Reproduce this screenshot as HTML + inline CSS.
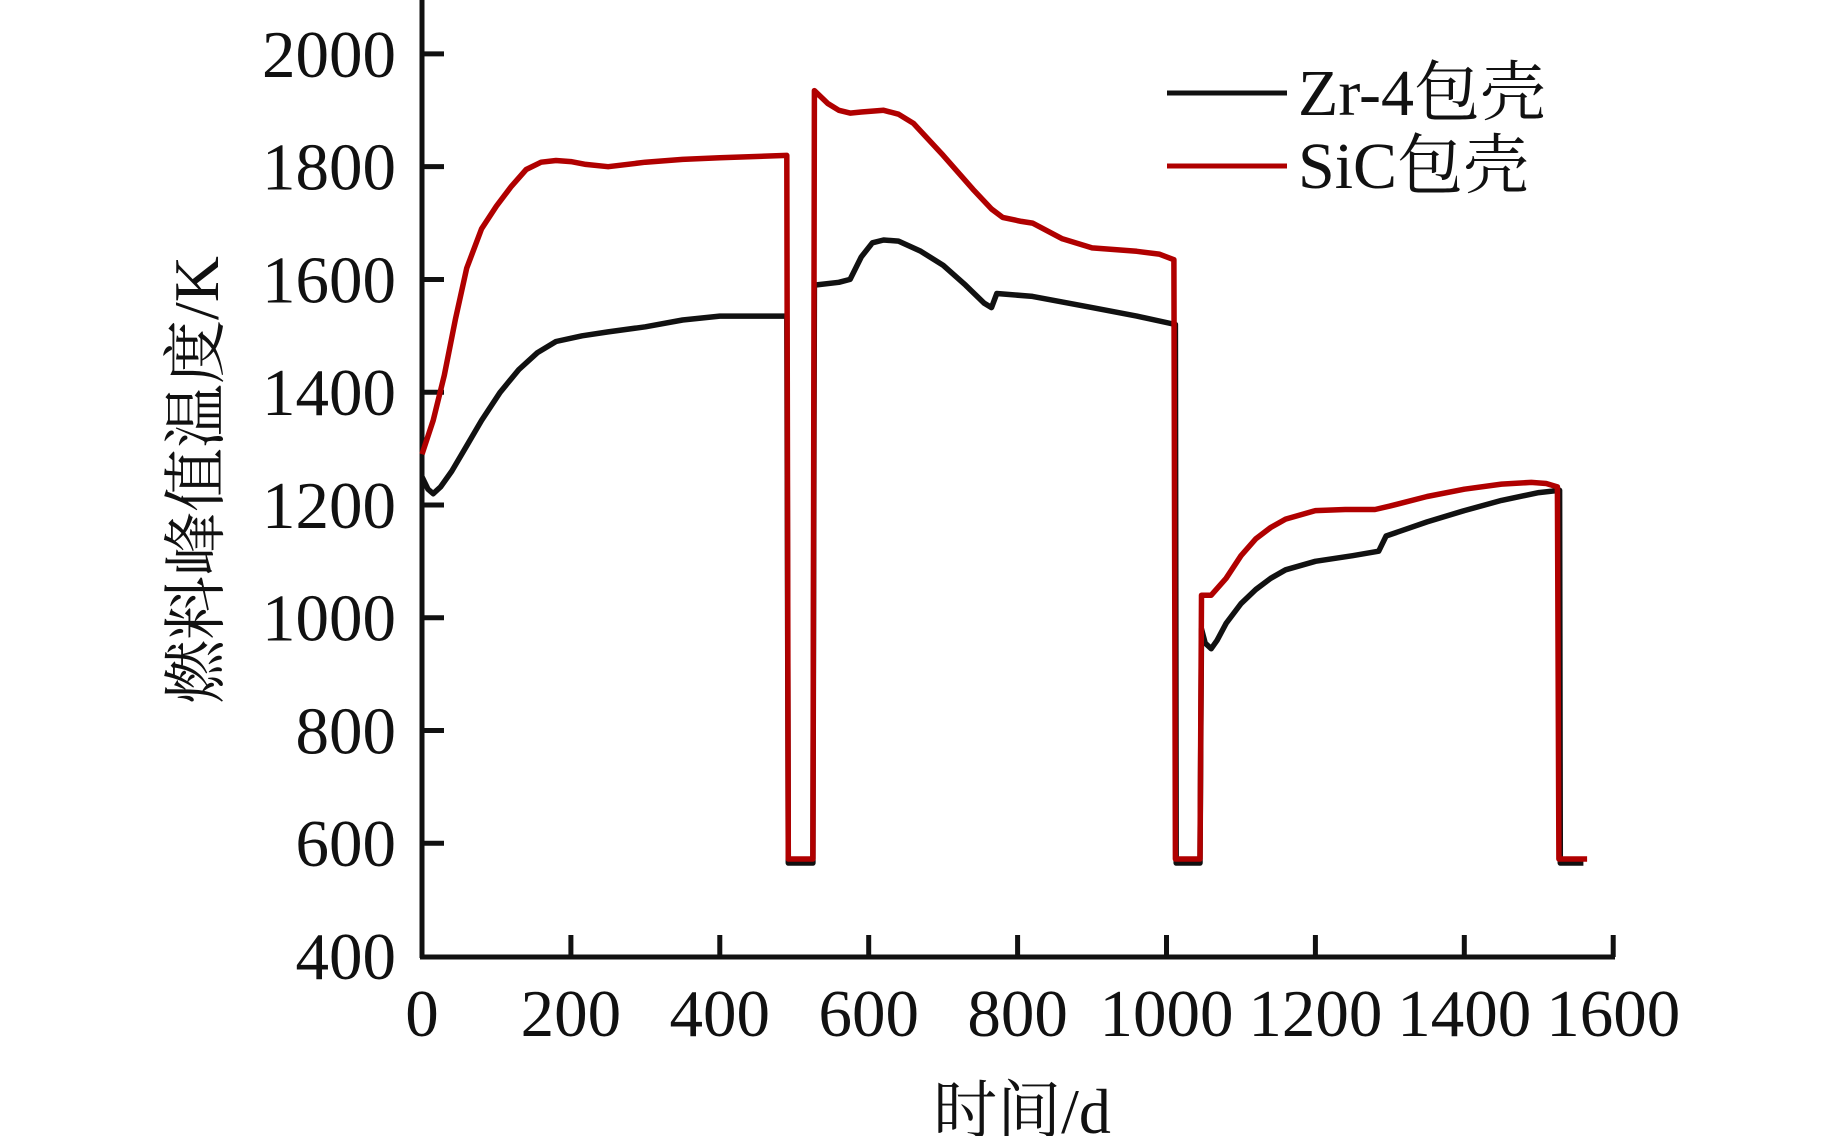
<!DOCTYPE html>
<html><head><meta charset="utf-8"><style>
html,body{margin:0;padding:0;background:#fff;}
svg{display:block;}
text{font-family:"Liberation Serif","Noto Serif CJK SC",serif;fill:#111;}
</style></head><body>
<svg id="s" width="1843" height="1136" viewBox="0 0 1843 1136" xmlns="http://www.w3.org/2000/svg">
<g stroke="#111" stroke-width="5" fill="none">
<line x1="422" y1="0" x2="422" y2="958"/>
<line x1="420" y1="957" x2="1615" y2="957"/>
</g>
<g id="ticks" stroke="#111" stroke-width="5"></g>
<g id="labels" font-size="67"></g>
<text x="1022" y="1133" font-size="64" text-anchor="middle">时间/d</text>
<text transform="translate(218,480) rotate(-90)" font-size="64" text-anchor="middle">燃料峰值温度/K</text>
<line x1="1167" y1="93" x2="1287" y2="93" stroke="#111" stroke-width="5"/>
<line x1="1167" y1="166" x2="1287" y2="166" stroke="#b00000" stroke-width="5"/>
<text x="1298" y="115" font-size="66">Zr-4包壳</text>
<text x="1298" y="188" font-size="66">SiC包壳</text>
<polyline id="zr" fill="none" stroke="#111" stroke-width="5.5" stroke-linejoin="round"/>
<polyline id="sic" fill="none" stroke="#b00000" stroke-width="5.5" stroke-linejoin="round"/>
</svg>
<script>
function X(d){return 422+0.7445*d;}
function Y(t){return 956-(t-400)*0.5638;}
var NS="http://www.w3.org/2000/svg";
var tk=document.getElementById('ticks'),lb=document.getElementById('labels');
function el(p,n,a,t){var e=document.createElementNS(NS,n);for(var k in a)e.setAttribute(k,a[k]);if(t!==undefined)e.textContent=t;p.appendChild(e);}
for(var d=200;d<=1600;d+=200){el(tk,'line',{x1:X(d),y1:957,x2:X(d),y2:935});}
for(var d=0;d<=1600;d+=200){el(lb,'text',{x:X(d),y:1036,'text-anchor':'middle'},d);}
for(var t=600;t<=2000;t+=200){el(tk,'line',{x1:422,y1:Y(t),x2:444,y2:Y(t)});}
for(var t=400;t<=2000;t+=200){el(lb,'text',{x:396,y:Y(t)+23,'text-anchor':'end'},t);}
var zr=[[0,1250],[8,1228],[15,1220],[25,1232],[40,1260],[60,1305],[80,1350],[105,1400],[130,1440],[155,1470],[180,1490],[215,1500],[250,1507],[300,1516],[350,1528],[400,1535],[490,1535],[492,565],[525,565],[527,1590],[560,1595],[575,1600],[590,1640],[605,1665],[620,1670],[640,1668],[670,1650],[700,1625],[730,1590],[755,1558],[765,1550],[772,1575],[820,1570],[900,1550],[960,1535],[1012,1520],[1013,565],[1045,565],[1047,980],[1052,955],[1060,945],[1068,960],[1080,990],[1100,1025],[1120,1050],[1140,1070],[1160,1085],[1200,1100],[1250,1110],[1285,1118],[1295,1145],[1350,1170],[1400,1190],[1450,1208],[1500,1222],[1528,1226],[1529,565],[1560,565]];
var sic=[[0,1290],[15,1350],[30,1430],[45,1530],[60,1620],[80,1690],[100,1730],[120,1765],[140,1795],[160,1808],[180,1811],[200,1809],[220,1804],[250,1800],[300,1808],[350,1813],[400,1816],[490,1820],[492,572],[525,572],[527,1935],[545,1912],[560,1900],[575,1895],[590,1897],[620,1900],[640,1893],[660,1877],[700,1820],[740,1760],[765,1725],[780,1710],[805,1703],[820,1700],[860,1672],[900,1656],[960,1650],[990,1645],[1010,1635],[1012,572],[1045,572],[1047,1040],[1060,1040],[1080,1070],[1100,1110],[1120,1140],[1140,1160],[1160,1175],[1200,1190],[1240,1192],[1280,1192],[1300,1198],[1350,1215],[1400,1228],[1450,1237],[1490,1240],[1510,1238],[1525,1232],[1527,572],[1565,572]];
function pts(a){return a.map(function(p){return X(p[0]).toFixed(1)+','+Y(p[1]).toFixed(1);}).join(' ');}
document.getElementById('zr').setAttribute('points',pts(zr));
document.getElementById('sic').setAttribute('points',pts(sic));
</script>
</body></html>
